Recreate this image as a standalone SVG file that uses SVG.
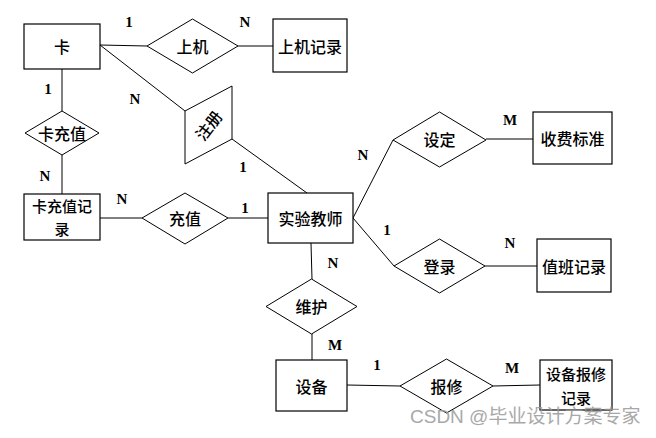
<svg xmlns="http://www.w3.org/2000/svg" width="656" height="438" viewBox="0 0 656 438">
<style>
.box{fill:#fff;stroke:#000;stroke-width:1.2}
.rel{fill:#fff;stroke:#000;stroke-width:1}
.ln{stroke:#000;stroke-width:1;fill:none}
.t{font-family:"Noto Sans CJK SC","Liberation Serif",serif;font-size:16px;font-weight:500;fill:#000;text-anchor:middle;dominant-baseline:central}
.t2{font-size:15px}
.c{font-family:"Liberation Serif",serif;font-size:15px;font-weight:bold;fill:#000;text-anchor:middle;dominant-baseline:central}
.wm{font-family:"Liberation Sans","Noto Sans CJK SC",sans-serif;font-size:19px;fill:#9a9a9a;opacity:0.85}
</style>
<rect width="656" height="438" fill="#fff"/>
<g id="connectors">
<line class="ln" x1="100" y1="45" x2="147" y2="46"/>
<line class="ln" x1="238" y1="46" x2="273" y2="46"/>
<line class="ln" x1="62" y1="69" x2="62" y2="111"/>
<line class="ln" x1="62" y1="155" x2="62" y2="194"/>
<line class="ln" x1="100" y1="45" x2="185" y2="111"/>
<line class="ln" x1="232" y1="139" x2="307" y2="193"/>
<line class="ln" x1="100" y1="218" x2="142" y2="218"/>
<line class="ln" x1="228" y1="218" x2="268" y2="218"/>
<line class="ln" x1="353" y1="218" x2="393" y2="140"/>
<line class="ln" x1="486" y1="139" x2="533" y2="139"/>
<line class="ln" x1="353" y1="218" x2="394" y2="266"/>
<line class="ln" x1="485" y1="266" x2="537" y2="266"/>
<line class="ln" x1="311" y1="243" x2="312" y2="279"/>
<line class="ln" x1="312" y1="334" x2="312" y2="360"/>
<line class="ln" x1="347" y1="385" x2="400" y2="386"/>
<line class="ln" x1="493" y1="386" x2="540" y2="385"/>
</g>
<g id="card"><rect class="box" x="24" y="24" width="76" height="45"/><text class="t" x="62" y="46">卡</text></g>
<g id="shangji"><polygon class="rel" points="147,46 192.5,19 238,46 192.5,73"/><text class="t" x="192.5" y="46">上机</text></g>
<g id="shangjijilu"><rect class="box" x="273" y="19" width="74" height="53"/><text class="t" x="310" y="46">上机记录</text></g>
<g id="kachongzhi"><polygon class="rel" points="25,133 62,111 99,133 62,155"/><text class="t" x="62" y="133">卡充值</text></g>
<g id="zhuce"><polygon class="rel" points="185,111 232,86 232,139 185,164"/><text class="t" x="208" y="125" transform="rotate(-52 208 125)">注册</text></g>
<g id="kachongzhijilu"><rect class="box" x="24" y="194" width="76" height="46"/><text class="t t2" x="62" y="205">卡充值记</text><text class="t t2" x="62" y="228">录</text></g>
<g id="chongzhi"><polygon class="rel" points="142,218 185,193 228,218 185,244"/><text class="t" x="185" y="218">充值</text></g>
<g id="teacher"><rect class="box" x="268" y="193" width="85" height="50"/><text class="t" x="310.5" y="218">实验教师</text></g>
<g id="sheding"><polygon class="rel" points="393,140 439.5,112 486,140 439.5,167"/><text class="t" x="439.5" y="139">设定</text></g>
<g id="shoufei"><rect class="box" x="533" y="112" width="79" height="52"/><text class="t" x="572.5" y="138">收费标准</text></g>
<g id="denglu"><polygon class="rel" points="394,266 439.5,239 485,266 439.5,293"/><text class="t" x="439.5" y="266">登录</text></g>
<g id="zhiban"><rect class="box" x="537" y="239" width="74" height="53"/><text class="t" x="574" y="266">值班记录</text></g>
<g id="weihu"><polygon class="rel" points="266,306.5 311.5,279 357,306.5 311.5,334"/><text class="t" x="311.5" y="306">维护</text></g>
<g id="shebei"><rect class="box" x="276" y="360" width="71" height="51"/><text class="t" x="311.5" y="385.5">设备</text></g>
<g id="baoxiu"><polygon class="rel" points="400,386 446.5,359 493,386 446.5,413"/><text class="t" x="446.5" y="386">报修</text></g>
<g id="baoxiujilu"><rect class="box" x="540" y="360" width="72" height="50"/><text class="t t2" x="576" y="373">设备报修</text><text class="t t2" x="576" y="397">记录</text></g>
<g id="cardinalities">
<text class="c" x="129" y="22">1</text>
<text class="c" x="245" y="22">N</text>
<text class="c" x="48" y="89">1</text>
<text class="c" x="135" y="99">N</text>
<text class="c" x="45" y="176">N</text>
<text class="c" x="243" y="167">1</text>
<text class="c" x="122" y="199">N</text>
<text class="c" x="245" y="208">1</text>
<text class="c" x="363" y="155">N</text>
<text class="c" x="510" y="120">M</text>
<text class="c" x="387" y="230">1</text>
<text class="c" x="510" y="243">N</text>
<text class="c" x="333" y="263">N</text>
<text class="c" x="335" y="345">M</text>
<text class="c" x="377" y="365">1</text>
<text class="c" x="512" y="368">M</text>
</g>
<text class="wm" x="410" y="423">CSDN @毕业设计方案专家</text>
</svg>
